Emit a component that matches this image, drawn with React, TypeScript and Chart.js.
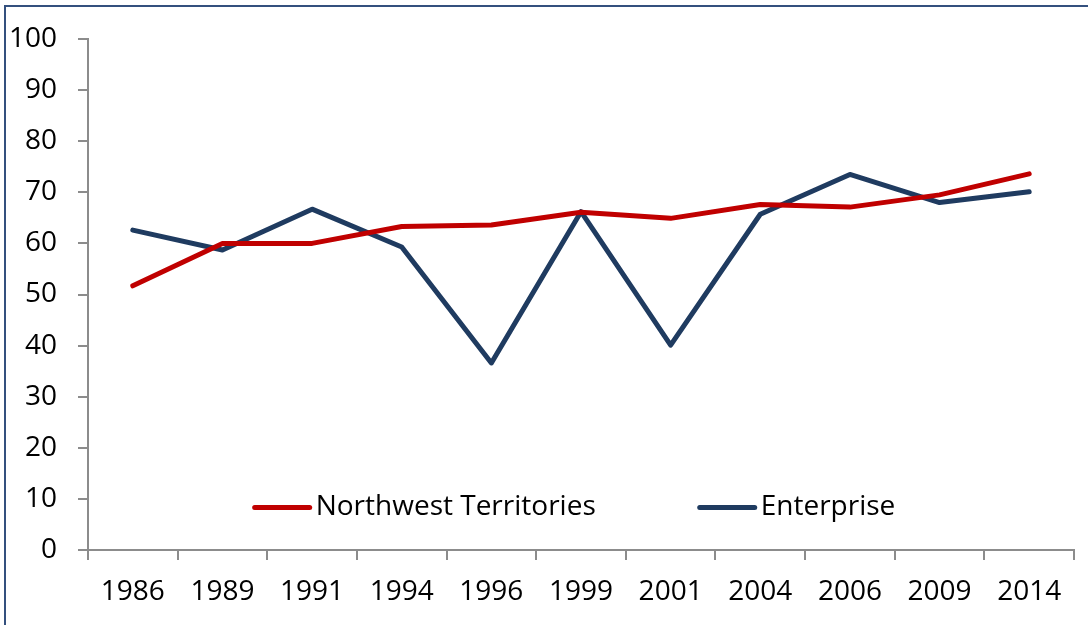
import React, { useEffect, useRef } from "react";
import { Chart, registerables } from "chart.js";

Chart.register(...registerables);

const categories = ["1986", "1989", "1991", "1994", "1996", "1999", "2001", "2004", "2006", "2009", "2014"];
const nwtValues = [51.7, 60.0, 60.0, 63.3, 63.6, 66.1, 64.9, 67.6, 67.1, 69.5, 73.6];
const enterpriseValues = [62.6, 58.7, 66.7, 59.3, 36.6, 66.2, 40.1, 65.7, 73.5, 68.0, 70.1];
const seriesNames = ["Northwest Territories", "Enterprise"];
const seriesColors = ["#C00000", "#1F3B60"];
const yTicks = { min: 0, max: 100, step: 10 };

const FONT = "'Open Sans', 'Noto Sans', sans-serif";
const FONT_SIZE = 28;
const AXIS_COLOR = "#8C8C8C";

const insideLegend = {
  id: "insideLegend",
  afterDraw(chart: any) {
    const ctx = chart.ctx;
    const area = chart.chartArea;
    const ds = chart.data.datasets;
    const lineLen = 55;
    const textGap = 6;
    const itemGap = 104;
    const y = area.bottom - 42.5;
    ctx.save();
    ctx.font = `${FONT_SIZE}px ${FONT}`;
    const widths = ds.map((d: any) => lineLen + textGap + ctx.measureText(d.label).width);
    const total = widths.reduce((a: number, b: number) => a + b, 0) + itemGap * (ds.length - 1);
    let x = (area.left + area.right) / 2 - 6 - total / 2;
    ds.forEach((d: any, i: number) => {
      ctx.strokeStyle = d.borderColor;
      ctx.lineWidth = 5;
      ctx.lineCap = "round";
      ctx.beginPath();
      ctx.moveTo(x, y);
      ctx.lineTo(x + lineLen, y);
      ctx.stroke();
      ctx.fillStyle = "#000000";
      ctx.textBaseline = "middle";
      ctx.textAlign = "left";
      ctx.fillText(d.label, x + lineLen + textGap, y);
      x += widths[i] + itemGap;
    });
    ctx.restore();
  },
};

export default function App() {
  const canvasRef = useRef<HTMLCanvasElement | null>(null);

  useEffect(() => {
    const canvas = canvasRef.current;
    if (!canvas) return;
    const chart = new Chart(canvas, {
      type: "line",
      data: {
        labels: categories,
        datasets: [
          {
            label: seriesNames[0],
            data: nwtValues,
            borderColor: seriesColors[0],
            backgroundColor: seriesColors[0],
            borderWidth: 5,
            pointRadius: 0,
            tension: 0,
            borderJoinStyle: "round",
            borderCapStyle: "round",
          },
          {
            label: seriesNames[1],
            data: enterpriseValues,
            borderColor: seriesColors[1],
            backgroundColor: seriesColors[1],
            borderWidth: 5,
            pointRadius: 0,
            tension: 0,
            borderJoinStyle: "round",
            borderCapStyle: "round",
          },
        ],
      },
      options: {
        animation: false,
        responsive: false,
        maintainAspectRatio: false,
        devicePixelRatio: 1,
        layout: { padding: { top: 39, right: 14, left: 0, bottom: 0 } },
        plugins: {
          legend: { display: false },
          tooltip: { enabled: false },
        },
        scales: {
          x: {
            type: "category",
            offset: true,
            grid: {
              offset: true,
              drawOnChartArea: false,
              drawTicks: true,
              tickLength: 10,
              color: AXIS_COLOR,
              lineWidth: 2,
            },
            border: { color: AXIS_COLOR, width: 2 },
            ticks: {
              color: "#000000",
              font: { family: FONT, size: FONT_SIZE },
              padding: 15,
              maxRotation: 0,
              autoSkip: false,
            },
            afterFit(scale: any) {
              scale.height = 75;
            },
          },
          y: {
            min: yTicks.min,
            max: yTicks.max,
            grid: {
              drawOnChartArea: false,
              drawTicks: true,
              tickLength: 10,
              color: AXIS_COLOR,
              lineWidth: 2,
            },
            border: { color: AXIS_COLOR, width: 2 },
            ticks: {
              stepSize: yTicks.step,
              color: "#000000",
              font: { family: FONT, size: FONT_SIZE },
              padding: 21,
            },
            afterFit(scale: any) {
              scale.width = 88;
            },
          },
        },
      },
      plugins: [insideLegend],
    });
    return () => chart.destroy();
  }, []);

  return (
    <div style={{ position: "fixed", left: 0, top: 0, width: 1088, height: 625, background: "#ffffff", overflow: "hidden" }}>
      <canvas ref={canvasRef} width={1088} height={625} style={{ position: "absolute", left: 0, top: 0, width: 1088, height: 625 }} />
      <div
        style={{
          position: "absolute",
          left: 4,
          top: 5,
          width: 1200,
          height: 700,
          borderTop: "2px solid #34507E",
          borderLeft: "2px solid #34507E",
          boxSizing: "border-box",
          pointerEvents: "none",
        }}
      />
    </div>
  );
}
